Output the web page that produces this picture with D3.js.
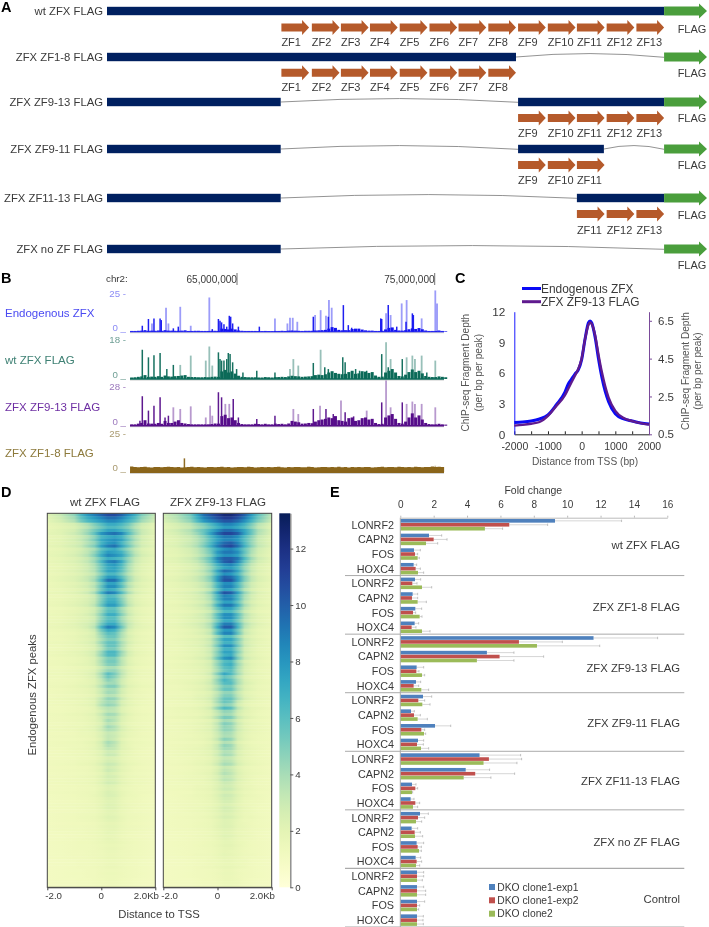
<!DOCTYPE html>
<html><head><meta charset="utf-8">
<script src="https://cdn.jsdelivr.net/npm/d3@7"></script>
<style>
html,body{margin:0;padding:0;background:#fff}
svg{display:block;filter:blur(0.35px)}
text{font-family:"Liberation Sans",Arial,sans-serif;fill:#3a3a3a}
.letter{font-weight:bold;font-size:14.5px;fill:#000}
</style></head><body>
<svg id="fig" width="709" height="927"></svg>
<script>
/* ---------- Panel A ---------- */
const constructNames=["wt ZFX FLAG","ZFX ZF1-8 FLAG","ZFX ZF9-13 FLAG","ZFX ZF9-11 FLAG","ZFX ZF11-13 FLAG","ZFX no ZF FLAG"];
const constructSegments=[[[0,805]],[[0,591]],[[0,251],[594,805]],[[0,251],[594,718]],[[0,251],[679,805]],[[0,251]]];
const constructFingers=[[1,2,3,4,5,6,7,8,9,10,11,12,13],[1,2,3,4,5,6,7,8],[9,10,11,12,13],[9,10,11],[11,12,13],[]];
const fingerStart=[252,296,338,380,423,466,508,551,594,637,679,722,765];
const fingerLength=40, proteinLength=805, flagEnd=867;
/* ---------- Panel B ---------- */
const trackNames=["Endogenous ZFX","wt ZFX FLAG","ZFX ZF9-13 FLAG","ZFX ZF1-8 FLAG"];
const trackMax=[25,18,28,25];
const genomeTicks=[65,75];
const lowStartMb=59.59, lowStepMb=0.169;
const endoLow=[.5,.5,.6,.7,1,.6,.7,.6,.8,.6,1,.7,.7,.6,.6,.7,.9,.5,.5,.6,.6,.5,.5,.5,.6,.6,.5,2,1.8,1.5,2,1.5,.8,.6,.5,.5,.5,.5,.4,.4,.5,.4,.4,.5,.5,.6,.5,.7,.8,.7,.6,.5,.6,.6,.6,.8,.9,1,1.2,2,3,2.5,1.2,.9,1,1,1.8,2,2,1.4,.9,.7,.7,.5,.5,.6,1.5,2.5,2.8,1.2,.8,.7,1,1.6,2.2,1.8,2.4,1.6,.8,.5,.5,.5,.8,.5,.4];
const wtLow=[.7,.8,1,1.2,1.8,1,1.1,1,1.3,1,1.6,1.2,1.1,1.3,1.4,1.6,1.8,1,.9,.9,.8,.8,.9,.8,1,1.1,1,3.5,4.2,3,3.5,2.5,1.5,1,.9,.8,.8,.8,.7,.7,.9,.8,.7,.9,.9,1,.9,1.2,1.5,1.3,1.2,1,1.1,1.2,1.3,1.8,2,1.8,2.2,3,3.6,2.8,2.4,2.2,2.4,3.2,3.8,2.4,2.6,3.6,3.4,2.8,3.2,1.6,1,1.1,3,3.8,4.6,3,1.4,1.2,2,3.2,4.4,3.2,3.8,2.6,1.4,1,.9,.9,1.2,1,.8];
const f913Low=[1,1,1.5,2,4,1.6,1.5,1.4,2,1.4,3.5,2,2,3,4,2,1.6,1.2,1,1,1,1,1,1,1.2,1.6,1.5,7,8,5.5,6,4,2,1.2,1,1,1,1.4,1.2,1,1.4,1,1,1.5,1.2,1.4,1,1.6,3.5,3,2.5,1.5,1.6,2,1.8,3,4,4.5,5,6,5.5,7,4,3.5,3,5.5,6,3.5,4,5.5,6,4.5,5,2,1.2,1.4,6,7.5,8.5,5,2,1.5,3,6,9,6,7.5,4.5,2,1.2,1,1,1.4,1,.8];
const f18Low=[3.8,3.4,3.3,3.4,3.6,3.3,3.2,3.5,3.4,3.3,3.4,3.7,3.4,3.3,3.5,3.2,3.3,3.4,3.6,3.3,3.4,3.3,3.2,3.4,3.5,3.3,3.4,3.6,3.3,3.4,3.2,3.3,3.5,3.4,3.3,3.6,3.4,3.2,3.3,3.4,3.3,3.5,3.3,3.4,3.6,3.3,3.2,3.4,3.3,3.5,3.4,3.3,3.3,3.6,3.4,3.2,3.3,3.5,3.4,3.3,3.4,3.3,3.6,3.3,3.4,3.2,3.5,3.3,3.4,3.3,3.5,3.4,3.2,3.3,3.4,3.6,3.3,3.4,3.5,3.3,3.7,3.4,3.3,3.5,3.3,3.6,3.4,3.3,3.4,3.5,3.8,3.4,3.6,3.4,3.3];
const endoThin=[[60.7,5.4],[61.41,15.7],[61.53,5.4],[62.13,16.3],[62.66,3.9],[63.6,22.4],[66.92,8.7],[67.55,5.4],[67.68,9.1],[67.82,9.1],[68.05,6.5],[68.95,10.9],[69.23,14.1],[69.5,10.4],[69.65,20.7],[69.79,15.7],[72.54,12],[72.77,10.9],[73.33,18.5],[73.58,20.7],[74.34,8.7],[75.03,27],[75.12,18.5]];
const endoSolid=[[60.21,3.9],[60.52,8.3],[60.8,8.7],[61.11,8.7],[61.17,7.6],[61.78,2.2],[62.03,3.3],[63.75,1.7],[64.06,8.3],[64.14,7.2],[64.22,6.1],[64.34,4.8],[64.48,3.3],[64.61,10.4],[64.68,9.8],[64.78,5.4],[65.07,3.3],[66.13,3.3],[68.86,9.8],[69.62,9.8],[70.38,17.4],[70.63,4.3],[70.8,2.6],[72.27,8.7],[72.32,8.3],[72.65,17.4],[73.08,3.3],[73.55,6.5],[73.87,12],[73.92,10.9]];
const wtThin=[[62.13,6.5],[62.66,10.8],[63.42,8.5],[63.6,15],[63.75,6.2],[67.68,4.6],[67.85,9.2],[68.1,6.2],[69.23,13.5],[72.54,17],[72.77,9.2],[73.58,10],[73.87,10.8],[74,9.2],[74.34,10.8],[75.03,8.5]];
const wtSolid=[[60.21,13.5],[60.52,10],[60.8,11],[61.11,12],[61.45,4.6],[61.78,6.5],[64.06,12.3],[64.14,9.2],[64.22,8.5],[64.34,8.5],[64.48,9.2],[64.56,12],[64.65,11.5],[64.78,7.7],[64.98,4.6],[65.3,3],[66,3.8],[66.92,3],[68.86,7.4],[69.44,5.4],[69.62,4.6],[70.35,10],[70.47,7.7],[71,4.6],[71.2,3.8],[71.56,3.8],[72.32,11.5],[72.65,5.4],[73.36,9.2],[74.6,3]];
const f913Thin=[[61.78,13.4],[62.13,12.2],[62.66,14.1],[63.42,6],[63.64,14.6],[63.75,7.3],[64.41,15.9],[64.61,15.9],[67.85,12.2],[68.1,8.5],[69.2,14.6],[70.26,18.3],[71.56,11],[72.54,33],[72.77,13.4],[73.58,15.9],[73.87,17.6],[74,15.9],[74.34,15.9],[75.03,13.4]];
const f913Solid=[[60.09,3.7],[60.21,21.5],[60.52,11],[60.8,14.6],[61.11,20.7],[61.36,6],[61.53,7.3],[64.06,24.4],[64.22,20.7],[64.81,19.5],[65.07,6],[66,4.9],[66.92,7.3],[68.86,12.2],[69.5,12.2],[69.87,8.5],[70.47,9.8],[70.9,6.8],[72.32,17],[73.36,17]];
const f18Thin=[[75.03,4.3]];
const f18Solid=[[62.34,9.1]];
/* ---------- Panel C ---------- */
const tssPositions=[-2000,-1750,-1500,-1250,-1000,-750,-500,-400,-300,-200,-100,0,100,200,250,300,400,500,600,700,800,1000,1250,1500,1750,2000];
const endoProfile=[1.15,1.2,1.3,1.5,1.9,2.9,4.1,4.9,5.4,5.9,6.3,7.3,9.3,10.9,11.1,10.9,9.5,7.4,5.6,4.2,3.2,2,1.5,1.3,1.1,1];
const f913Profile=[.96,1,1.06,1.15,1.47,2,2.55,2.9,3.25,3.6,3.96,4.5,5.52,6.28,6.41,6.33,5.74,4.71,3.79,3.04,2.44,1.74,1.36,1.2,1.09,1.01];
const leftTicks=[0,3,6,9,12], rightTicks=[.5,2.5,4.5,6.5], tssTicks=[-2000,-1500,-1000,-500,0,500,1000,1500,2000];
/* ---------- Panel D ---------- */
const heatColumnsKb=[-2,-1.5,-1,-.75,-.5,-.25,0,.25,.5,.75,1,1.25,1.5,2];
const heatWt=[
[2,3,4.5,6.5,8,9,10,11,11,10,8.5,7,5,3],
[1.8,2.3,3,4,5,6.5,8,9.5,9.5,8.5,7,5,3.5,2],
[1.7,2,2.8,3.5,4.5,6,8.5,9.5,10,9,6.5,4.5,3,1.8],
[1.6,1.9,2.5,3,4,5,7.5,9,9.5,7.5,5.5,3.8,2.6,1.7],
[1.7,2,2.6,3.2,4,5.5,8,10,9.5,8.5,6,4,2.8,1.8],
[1.5,1.8,2.3,2.8,3.4,4.6,7,9.5,10,8,5,3.2,2.3,1.6],
[1.5,1.8,2.3,2.7,3.3,4.2,6.5,9,9,7,4.6,3,2.2,1.5],
[1.4,1.7,2.1,2.5,3,4,6.5,9.5,9.5,7,4.2,2.8,2.1,1.5],
[1.4,1.6,2,2.4,2.9,4,7,9.5,9,6.5,4,2.6,2,1.4],
[1.4,1.6,2,2.3,2.7,3.6,6,8.5,8.5,6,3.6,2.4,1.9,1.4],
[1.3,1.5,1.9,2.2,2.6,3.4,5.5,8,8,5.5,3.4,2.3,1.8,1.3],
[1.3,1.5,1.9,2.2,2.5,3.2,5.5,7.5,7.5,5,3.2,2.2,1.7,1.3],
[1.3,1.5,1.8,2.1,2.5,3.4,6.5,9,8.5,5.5,3,2.1,1.7,1.3],
[1.3,1.4,1.7,2,2.3,2.9,4.8,6.5,6.5,4.4,2.8,2,1.6,1.3],
[1.2,1.4,1.7,1.9,2.2,2.8,4.6,7,7,4.6,2.7,1.9,1.6,1.2],
[1.2,1.4,1.6,1.8,2.1,2.7,4.6,6.5,6.5,4.2,2.5,1.8,1.5,1.2],
[1.2,1.3,1.6,1.8,2,2.5,4,5.5,5.5,3.8,2.4,1.8,1.5,1.2],
[1.2,1.3,1.5,1.7,2,2.5,4.2,6.5,5.5,3.6,2.2,1.7,1.4,1.2],
[1.2,1.3,1.5,1.7,1.9,2.3,3.6,5,5,3.2,2.1,1.7,1.4,1.2],
[1.1,1.3,1.5,1.6,1.8,2.2,3.4,4.8,4.6,3,2,1.6,1.4,1.1],
[1.1,1.2,1.4,1.6,1.8,2.3,4,5,4.6,2.8,2,1.6,1.3,1.1],
[1.1,1.2,1.4,1.5,1.7,2,3,4.2,4,2.6,1.9,1.5,1.3,1.1],
[1.1,1.2,1.4,1.5,1.7,2,2.8,4.6,4,2.5,1.8,1.5,1.3,1.1],
[1.1,1.2,1.3,1.5,1.6,1.9,2.7,3.8,3.5,2.4,1.8,1.5,1.3,1.1],
[1.1,1.2,1.3,1.4,1.6,1.9,2.8,4.4,3.8,2.3,1.7,1.4,1.3,1.1],
[1,1.1,1.3,1.4,1.5,1.8,2.4,3.4,3.2,2.1,1.7,1.4,1.2,1],
[1,1.1,1.2,1.4,1.5,1.7,2.3,3,2.8,2,1.6,1.4,1.2,1],
[1,1.1,1.2,1.3,1.4,1.7,2.2,3.2,2.8,2,1.6,1.3,1.2,1],
[1,1.1,1.2,1.3,1.4,1.6,2.1,2.8,2.6,1.9,1.5,1.3,1.2,1],
[1,1.1,1.2,1.3,1.4,1.5,2,2.6,2.4,1.8,1.5,1.3,1.2,1],
[.9,1,1.1,1.2,1.3,1.5,1.9,2.4,2.3,1.7,1.4,1.3,1.1,.9],
[.9,1,1.1,1.2,1.3,1.4,1.8,2.3,2.2,1.7,1.4,1.2,1.1,.9],
[.9,1,1.1,1.2,1.3,1.4,1.7,2.1,2,1.6,1.3,1.2,1.1,.9],
[.9,1,1.1,1.1,1.2,1.3,1.6,1.9,1.9,1.5,1.3,1.2,1.1,.9],
[.8,.9,1,1.1,1.2,1.3,1.5,1.8,1.7,1.4,1.2,1.1,1,.8],
[.8,.9,1,1.1,1.1,1.2,1.4,1.6,1.6,1.4,1.2,1.1,1,.8],
[.8,.9,1,1,1.1,1.2,1.3,1.5,1.5,1.3,1.2,1.1,1,.8],
[.7,.8,.9,1,1,1.1,1.2,1.4,1.4,1.2,1.1,1,.9,.7],
[.7,.8,.9,.9,1,1,1.2,1.3,1.3,1.2,1.1,1,.9,.7],
[.7,.8,.8,.9,.9,1,1.1,1.2,1.2,1.1,1,.9,.8,.7]];
const heatF913=[
[2.5,3.5,5,7,9,10,11,12,12,11,9.5,7.5,5.5,3],
[2,2.8,3.8,5,6,7.5,9,10.5,10.5,9.5,8,6,4,2.2],
[1.8,2.4,3.3,4.2,5.5,7.5,9.5,11,11,10,7.5,5.5,3.5,2],
[1.7,2.1,2.9,3.6,4.8,6.5,8.5,10,10.5,9,6.5,4.5,3,1.8],
[1.7,2,2.7,3.4,4.5,6,9,10.5,10.5,9.5,6.5,4.2,2.8,1.7],
[1.6,1.9,2.5,3,4,5.5,8,10,10.5,8.5,5.5,3.6,2.5,1.6],
[1.5,1.8,2.4,2.9,3.7,5,8,10.5,10,8,5,3.2,2.3,1.5],
[1.5,1.8,2.3,2.7,3.4,4.5,7.5,10,10,7.5,4.6,3,2.2,1.5],
[1.4,1.7,2.2,2.6,3.2,4.4,7.5,10.5,10,7.5,4.4,2.9,2.1,1.4],
[1.4,1.6,2.1,2.5,3,4,7,9.5,9.5,7,4,2.7,2,1.4],
[1.4,1.6,2,2.4,2.9,3.8,6.5,9,9,6.5,3.8,2.6,1.9,1.4],
[1.3,1.5,2,2.3,2.7,3.6,6,8.5,8.5,6,3.5,2.5,1.9,1.3],
[1.3,1.5,1.9,2.2,2.7,3.6,7,10,10,6.5,3.4,2.4,1.8,1.3],
[1.3,1.5,1.9,2.1,2.5,3.2,5.5,8,8,5.5,3.1,2.3,1.8,1.3],
[1.3,1.4,1.8,2,2.4,3.2,5.5,8.5,8.5,5.5,3,2.2,1.7,1.3],
[1.2,1.4,1.7,2,2.3,3,5.5,8,8.5,5,2.8,2.1,1.7,1.2],
[1.2,1.4,1.7,1.9,2.2,2.8,4.8,7,7.5,4.6,2.7,2,1.6,1.2],
[1.2,1.4,1.6,1.8,2.1,2.8,5,7.5,6.5,4.2,2.5,1.9,1.6,1.2],
[1.2,1.3,1.6,1.8,2.1,2.7,4.2,6,6,3.8,2.4,1.9,1.5,1.2],
[1.2,1.3,1.5,1.8,2,2.5,3.8,5.5,5.5,3.6,2.3,1.8,1.5,1.2],
[1.1,1.3,1.5,1.7,2,2.6,4.6,6.5,6,3.4,2.2,1.7,1.5,1.1],
[1.1,1.3,1.5,1.6,1.9,2.3,3.6,5,4.8,3,2.1,1.7,1.4,1.1],
[1.1,1.2,1.4,1.6,1.8,2.2,3.4,5.2,4.8,3,2,1.6,1.4,1.1],
[1.1,1.2,1.4,1.6,1.8,2.1,3.2,4.6,4.4,2.8,2,1.6,1.4,1.1],
[1.1,1.2,1.4,1.5,1.7,2.1,3.2,5,4.6,2.6,1.9,1.5,1.3,1.1],
[1,1.2,1.4,1.5,1.7,2,2.9,4.2,4,2.5,1.8,1.5,1.3,1],
[1,1.1,1.3,1.5,1.6,1.9,2.7,3.8,3.6,2.4,1.8,1.5,1.3,1],
[1,1.1,1.3,1.4,1.6,1.8,2.6,3.8,3.4,2.3,1.7,1.4,1.3,1],
[1,1.1,1.3,1.4,1.5,1.8,2.4,3.4,3.2,2.2,1.7,1.4,1.2,1],
[1,1.1,1.2,1.4,1.5,1.7,2.3,3,2.9,2.1,1.6,1.4,1.2,1],
[.9,1,1.2,1.3,1.4,1.6,2.1,2.8,2.7,2,1.5,1.3,1.2,.9],
[.9,1,1.2,1.3,1.4,1.6,2,2.6,2.5,1.9,1.5,1.3,1.1,.9],
[.9,1,1.1,1.2,1.3,1.5,1.9,2.4,2.3,1.8,1.4,1.3,1.1,.9],
[.9,1,1.1,1.2,1.3,1.4,1.8,2.2,2.1,1.6,1.4,1.2,1.1,.9],
[.8,.9,1,1.1,1.2,1.3,1.6,2,1.9,1.5,1.3,1.2,1,.8],
[.8,.9,1,1.1,1.2,1.3,1.5,1.8,1.8,1.5,1.3,1.1,1,.8],
[.8,.9,1,1.1,1.1,1.2,1.4,1.7,1.6,1.4,1.2,1.1,1,.8],
[.7,.8,.9,1,1.1,1.2,1.3,1.5,1.5,1.3,1.2,1,.9,.7],
[.7,.8,.9,1,1,1.1,1.2,1.4,1.4,1.2,1.1,1,.9,.7],
[.7,.8,.8,.9,1,1,1.1,1.3,1.3,1.2,1,.9,.8,.7]];
/* strength of each thin streak, three per matrix row, read by eye from the dark and pale bands */
const streakWt=[1.1,.95,.85,.8,.7,.85,1.05,.8,.9,.95,1.1,.8,.85,.95,.75,1,.85,.8,.9,.75,.95,1.1,.85,.95,.8,1.05,.7,.85,.9,1,.75,.8,.95,.85,.9,1.05,1.1,.85,.7,.9,.8,.95,.85,.75,1,1.05,.8,.85,.95,.7,.85,1,.9,.75,.85,1.05,.8,.9,.75,1,.85,.95,.7,.8,1.05,.85,.9,.75,.95,1.05,.8,.85,.7,.95,.85,1,.8,.9,.75,.85,1.05,.8,.9,.7,.95,.85,1,.8,.75,.9,1,.85,.8,.9,.95,.75,.85,1,.9,.8,.9,.85,.95,.8,.9,1,.85,.9,.9,.85,.95,.85,.9,1,.9,.95,.85,1,.9,.95];
const streakF913=[1.1,1,.9,.85,.75,.95,1.05,.85,.8,1,1.1,.85,.9,.8,1,1.05,.85,.75,.95,.8,1,1.1,.85,.9,.75,1.05,.85,.95,.8,1,.85,.7,.95,1,.85,1.1,1.05,.8,.9,.75,.95,.85,1,.8,.9,.85,1.05,.75,.95,.85,.8,1,.75,.9,1.05,.85,.95,.8,.9,1.05,.85,.7,1,.9,.8,1.05,.75,.95,.85,1,.85,.8,.95,.7,.9,1,.85,.95,.8,.9,1.05,.75,.85,.95,.9,1,.8,.85,.95,.75,1,.9,.85,.8,.95,.9,.85,1,.8,.9,.95,.85,.9,1,.85,.9,.95,.85,.9,1,.85,.95,.9,1,.85,.95,.9,1,.95,.9];
const heatFloor=1, heatMatrixFloor=.7, heatGain=[.86,.92];
const colorTicks=[0,2,4,6,8,10,12], colorMax=13.25;
/* ---------- Panel E ---------- */
const foldGroups=["wt ZFX FLAG","ZFX ZF1-8 FLAG","ZFX ZF9-13 FLAG","ZFX ZF9-11 FLAG","ZFX ZF11-13 FLAG","ZFX no ZF FLAG","Control"];
const genes=["LONRF2","CAPN2","FOS","HOXC4"];
const cloneNames=["DKO clone1-exp1","DKO clone1-exp2","DKO clone2"];
const foldTicks=[0,2,4,6,8,10,12,14,16];
const foldValues=[
[[9.27,6.53,5.07],[1.72,2,1.54],[.82,.88,1.04],[.8,.92,1.06]],
[[.88,.72,1.3],[.74,.7,1.04],[.9,.76,1.16],[.86,.68,1.3]],
[[11.58,7.11,8.19],[5.19,5.95,4.59],[.98,.96,1.3],[.94,.8,1.26]],
[[1.36,1.08,1.32],[.64,.82,1.04],[2.08,1.26,1.42],[1.06,1,1.24]],
[[4.75,5.31,4.99],[3.92,4.49,3.8],[.7,.9,.7],[.62,.9,.76]],
[[1.18,1.06,.94],[.68,.86,.88],[.98,1.04,1.12],[.92,.98,.94]],
[[1,1,1],[1,1,1],[1,1,1],[1,1,1]]];
const foldErrorEnds=[
[[13.26,8.83,6.13],[2.48,2.8,2.24],[1.2,1.04,1.14],[.98,1.2,1.4]],
[[1.22,1,1.88],[1.04,1.04,1.56],[1.28,.92,1.3],[1.1,.94,1.78]],
[[15.42,9.71,11.95],[6.81,8.59,6.81],[1.4,1.12,1.46],[1.22,1.1,1.7]],
[[1.88,1.46,1.78],[.84,1.2,1.62],[3.02,1.46,1.52],[1.4,1.38,1.7]],
[[7.21,7.27,6.99],[5.35,6.85,5.43],[.94,1.04,.74],[.82,1.16,1.04]],
[[1.68,1.46,1.28],[1.04,1.2,1.34],[1.4,1.26,1.26],[1.22,1.28,1.16]],
[[1.4,1.4,1.32],[1.4,1.52,1.52],[1.46,1.16,1.1],[1.38,1.36,1.38]]];

const svg=d3.select("#fig");
const txt=(g,x,y,s,o={})=>{const t=g.append("text").attr("x",x).attr("y",y).attr("dy","0.35em")
  .attr("font-size",o.size||11).attr("text-anchor",o.anchor||"start").text(s);
  if(o.fill)t.style("fill",o.fill); if(o.rot)t.attr("transform",`rotate(${o.rot} ${x} ${y})`); return t;};
[["A",1,7],["B",1,278],["C",455,278],["D",1,492],["E",330,492]].forEach(d=>txt(svg,d[1],d[2],d[0]).attr("class","letter"));

/* ===== A ===== */
(function(){
 const g=svg.append("g");
 const x=d3.scaleLinear().domain([0,flagEnd]).range([107,707]);
 const barY=[11,57,102,149,198,249], zfY=[27.5,72.7,118,165,214], lblY=[42.5,87.5,133,180,230], flagY=[29,73,118,165,215,265];
 const arrow=(x0,x1,yc,shaft,head,hl)=>`M${x0},${yc-shaft/2}H${x1-hl}V${yc-head/2}L${x1},${yc}L${x1-hl},${yc+head/2}V${yc+shaft/2}H${x0}Z`;
 constructNames.forEach((name,i)=>{
  txt(g,103,barY[i],name,{anchor:"end",size:11.3});
  const segs=constructSegments[i];
  const joints=[];
  segs.forEach((s,k)=>{const nxt=k<segs.length-1?segs[k+1][0]:proteinLength; if(nxt-s[1]>1)joints.push([s[1],nxt]);});
  joints.forEach(j=>{
    const a=x(j[0]),b=x(j[1]);
    g.append("path").attr("d",`M${a},${barY[i]}Q${(a+b)/2},${barY[i]-7} ${b},${barY[i]+0.3}`)
     .attr("fill","none").attr("stroke","#777").attr("stroke-width",.8);
  });
  g.selectAll(null).data(segs).join("rect").attr("x",d=>x(d[0])).attr("width",d=>x(d[1])-x(d[0]))
   .attr("y",barY[i]-4.2).attr("height",8.4).attr("fill","#002060");
  g.append("path").attr("d",arrow(x(proteinLength),x(flagEnd),barY[i],9,15,8)).attr("fill","#4a9e3c");
  txt(g,692,flagY[i],"FLAG",{anchor:"middle",size:11});
  constructFingers[i].forEach(n=>{
    const s=fingerStart[n-1];
    g.append("path").attr("d",arrow(x(s),x(s+fingerLength),zfY[i],8,15,7)).attr("fill","#b55a2b");
    txt(g,x(s),lblY[i],"ZF"+n,{size:11});
  });
 });
})();

/* ===== B ===== */
(function(){
 const g=svg.append("g");
 const x=d3.scaleLinear().domain([65,75]).range([237,434.7]);
 const base=[331.7,379,425.7,472.3], top=[293.5,340,387.3,434];
 const labelY=[312.7,360,406.7,452.7], axisTopY=[294,340,387,434], axisZeroY=[328,375,421.7,468];
 const solid=["#1414f0","#0b6a58","#560d8a","#8a651a"], text=["#4a4af2","#3f8174","#6e2fa3","#8d7a3c"], axisC=["#8b8bf5","#6f9f95","#9c79bd","#a99a70"];
 const lows=[endoLow,wtLow,f913Low,f18Low], thins=[endoThin,wtThin,f913Thin,f18Thin], solids=[endoSolid,wtSolid,f913Solid,f18Solid];
 txt(g,106,279,"chr2:",{size:9.8});
 genomeTicks.forEach(t=>{
  txt(g,x(t),279,d3.format(",")(t*1e6),{anchor:"end",size:10.1});
  g.append("line").attr("x1",x(t)).attr("x2",x(t)).attr("y1",273).attr("y2",285).attr("stroke","#333").attr("stroke-width",.7);
 });
 trackNames.forEach((name,i)=>{
  const y=d3.scaleLinear().domain([0,trackMax[i]]).range([base[i],top[i]]);
  txt(g,5,labelY[i],name,{size:11.5,fill:text[i]});
  txt(g,126,axisTopY[i],trackMax[i]+" -",{anchor:"end",size:9.7,fill:axisC[i]});
  txt(g,126,axisZeroY[i],"0 _",{anchor:"end",size:9.7,fill:axisC[i]});
  g.append("line").attr("x1",130).attr("x2",444).attr("y1",base[i]+1).attr("y2",base[i]+1).attr("stroke","#bbb").attr("stroke-width",.8);
  const xl=k=>x(lowStartMb+k*lowStepMb)+1.6;
  if(i===3){
   const area=d3.area().x((d,k)=>x(lowStartMb+k*lowStepMb)).y0(base[i]).y1(d=>y(d)).curve(d3.curveStepAfter);
   g.append("path").attr("d",area(lows[i])).attr("fill",solid[i]);
  } else {
   g.selectAll(null).data(lows[i]).join("line").attr("x1",(d,k)=>xl(k)).attr("x2",(d,k)=>xl(k))
     .attr("y1",base[i]).attr("y2",d=>y(d)).attr("stroke",solid[i]).attr("stroke-width",3);
  }
  g.selectAll(null).data(thins[i]).join("line").attr("x1",d=>x(d[0])).attr("x2",d=>x(d[0]))
    .attr("y1",base[i]).attr("y2",d=>y(d[1])).attr("stroke",solid[i]).attr("stroke-width",1.8).attr("opacity",.42);
  g.selectAll(null).data(solids[i]).join("line").attr("x1",d=>x(d[0])).attr("x2",d=>x(d[0]))
    .attr("y1",base[i]).attr("y2",d=>y(d[1])).attr("stroke",solid[i]).attr("stroke-width",1.5).attr("opacity",.95);
  g.append("line").attr("x1",130).attr("x2",444).attr("y1",base[i]).attr("y2",base[i]).attr("stroke",solid[i]).attr("stroke-width",i===0?1.1:1.6);
 });
})();

/* ===== C ===== */
(function(){
 const g=svg.append("g");
 const x=d3.scaleLinear().domain([-2000,2000]).range([514.3,649]);
 const yL=d3.scaleLinear().domain([0,12]).range([434.3,311.7]);
 const yR=d3.scaleLinear().domain([.5,6.98]).range([434.3,311.7]);
 const style=(a,c,size)=>{a.select(".domain").attr("stroke",c);a.selectAll(".tick line").attr("stroke",c);a.selectAll("text").attr("font-size",size).style("fill","#3a3a3a").attr("font-family","Liberation Sans");};
 const ax=g.append("g").attr("transform","translate(0,434.3)").call(d3.axisBottom(x).tickValues(tssTicks).tickSize(-3).tickSizeOuter(0).tickFormat(d=>d%1000?"":d));
 style(ax,"#222",10.5); ax.selectAll("text").attr("dy","0.35em").attr("y",11.7);
 const al=g.append("g").attr("transform","translate(514.3,0)").call(d3.axisLeft(yL).tickValues(leftTicks).tickSize(0).tickPadding(9));
 style(al,"#1a1aff",11.8);
 const ar=g.append("g").attr("transform","translate(649,0)").call(d3.axisRight(yR).tickValues(rightTicks).tickSize(3).tickSizeOuter(0).tickPadding(6));
 style(ar,"#7a4a9a",11.5);
 const line=y=>d3.line().x(d=>x(d[0])).y(d=>y(d[1])).curve(d3.curveMonotoneX);
 g.append("path").attr("d",line(yL)(d3.zip(tssPositions,endoProfile))).attr("fill","none").attr("stroke","#0a0af5").attr("stroke-width",3);
 g.append("path").attr("d",line(yR)(d3.zip(tssPositions,f913Profile))).attr("fill","none").attr("stroke","#5f1a8e").attr("stroke-width",2.4);
 [["Endogenous ZFX","#0a0af5",288.5],["ZFX ZF9-13 FLAG","#5f1a8e",301.7]].forEach(d=>{
  g.append("line").attr("x1",522).attr("x2",541).attr("y1",d[2]).attr("y2",d[2]).attr("stroke",d[1]).attr("stroke-width",3);
  txt(g,541,d[2],d[0],{size:11.9});
 });
 [[465.7,"ChIP-seq Fragment Depth",372.7],[478,"(per bp per peak)",372.7],[685,"ChIP-seq Fragment Depth",371],[697,"(per bp per peak)",371]].forEach(d=>
  txt(g,d[0],d[2],d[1],{anchor:"middle",size:10.1,rot:-90,fill:"#555"}));
 txt(g,585,461.7,"Distance from TSS (bp)",{anchor:"middle",size:10.2,fill:"#555"});
})();

/* ===== D ===== */
(function(){
 const g=svg.append("g");
 const defs=svg.append("defs");
 const y0=513.3,y1=887.3;
 const color=v=>d3.interpolateYlGnBu(Math.min(1,v/colorMax));
 const panels=[{m:heatWt,s:streakWt,a:47.3,b:155.3,title:"wt ZFX FLAG",tc:105,end:159},{m:heatF913,s:streakF913,a:163.3,b:271.7,title:"ZFX ZF9-13 FLAG",tc:218,end:275}];
 panels.forEach((p,pi)=>{
  const x=d3.scaleLinear().domain([-2,2]).range([p.a,p.b]);
  const y=d3.scaleBand().domain(d3.range(p.s.length)).range([y0,y1]);
  p.s.forEach((gain,r)=>{
   const row=p.m[Math.floor(r/3)];
   const gr=defs.append("linearGradient").attr("id",`h${pi}r${r}`);
   gr.selectAll("stop").data(row).join("stop")
     .attr("offset",(d,k)=>(heatColumnsKb[k]+2)/4).attr("stop-color",d=>color(heatFloor+(d-heatMatrixFloor)*gain*heatGain[pi]));
  });
  g.selectAll(null).data(p.s).join("rect").attr("x",p.a).attr("width",p.b-p.a)
    .attr("y",(d,r)=>y(r)).attr("height",y.bandwidth()+.4).attr("fill",(d,r)=>`url(#h${pi}r${r})`);
  g.append("rect").attr("x",p.a).attr("y",y0).attr("width",p.b-p.a).attr("height",y1-y0).attr("fill","none").attr("stroke","#444").attr("stroke-width",1);
  txt(g,p.tc,502,p.title,{anchor:"middle",size:11.6});
  const ax=g.append("g").attr("transform",`translate(0,${y1})`).call(d3.axisBottom(x).tickValues([-2,0,2]).tickSize(3).tickSizeOuter(0).tickFormat(""));
  ax.select(".domain").attr("stroke","#444"); ax.selectAll(".tick line").attr("stroke","#444");
  txt(g,p.a-2,896,"-2.0",{size:9.7}); txt(g,x(0),896,"0",{anchor:"middle",size:9.7}); txt(g,p.end,896,"2.0Kb",{anchor:"end",size:9.7});
 });
 txt(g,159,914,"Distance to TSS",{anchor:"middle",size:11.3});
 txt(g,31.7,695,"Endogenous ZFX peaks",{anchor:"middle",size:11.3,rot:-90});
 const cy=d3.scaleLinear().domain([0,colorMax]).range([y1,y0]);
 const cg=defs.append("linearGradient").attr("id","cbar").attr("x1",0).attr("x2",0).attr("y1",1).attr("y2",0);
 cg.selectAll("stop").data(d3.range(0,1.0001,.05)).join("stop").attr("offset",d=>d).attr("stop-color",d=>d3.interpolateYlGnBu(d));
 g.append("rect").attr("x",279.3).attr("y",y0).attr("width",11).attr("height",y1-y0).attr("fill","url(#cbar)");
 const a=g.append("g").attr("transform","translate(290.3,0)").call(d3.axisRight(cy).tickValues(colorTicks).tickSize(3).tickSizeOuter(0).tickPadding(2));
 a.select(".domain").attr("stroke","#888").attr("stroke-width",1.4); a.selectAll(".tick line").attr("stroke","#555");
 a.selectAll("text").attr("font-size",9.7).attr("font-family","Liberation Sans").style("fill","#3a3a3a");
})();

/* ===== E ===== */
(function(){
 const g=svg.append("g");
 const x=d3.scaleLinear().domain([0,16]).range([400.3,667.3]);
 const yG=d3.scaleBand().domain(foldGroups).range([517,927]);
 const yGene=d3.scaleBand().domain(genes).range([.6,yG.bandwidth()+.6]);
 const yClone=d3.scaleBand().domain(cloneNames).range([yGene.bandwidth()/2-5.9,yGene.bandwidth()/2+5.9]);
 const colors=["#4f81bd","#c0504d","#9bbb59"];
 const labelRight=680, labelY=[545,607.3,667.7,723.3,781,842,899];
 const ax=g.append("g").attr("transform","translate(0,517.7)").call(d3.axisTop(x).tickValues(foldTicks).tickSize(2).tickSizeOuter(0).tickPadding(8));
 ax.select(".domain").attr("stroke","#bbb"); ax.selectAll(".tick line").attr("stroke","#bbb");
 ax.selectAll("text").attr("font-size",10).attr("font-family","Liberation Sans").style("fill","#3a3a3a");
 txt(g,533.3,490,"Fold change",{anchor:"middle",size:10.5});
 foldGroups.forEach((grp,gi)=>{
  const top=yG(grp);
  genes.forEach((gene,ii)=>{
   const ty=top+yGene(gene);
   txt(g,394,ty+yGene.bandwidth()/2,gene,{anchor:"end",size:10.8});
   cloneNames.forEach((c,k)=>{
    const yy=ty+yClone(c), h=yClone.bandwidth()-.3, mid=yy+h/2;
    const v=foldValues[gi][ii][k], e=foldErrorEnds[gi][ii][k];
    g.append("line").attr("x1",x(v)).attr("x2",x(e)).attr("y1",mid).attr("y2",mid).attr("stroke","#c4c4c4").attr("stroke-width",.7);
    g.append("line").attr("x1",x(e)).attr("x2",x(e)).attr("y1",mid-1.2).attr("y2",mid+1.2).attr("stroke","#aaa").attr("stroke-width",.7);
    g.append("rect").attr("x",x(0)).attr("y",yy).attr("width",x(v)-x(0)).attr("height",h).attr("fill",colors[k]);
   });
  });
  g.append("line").attr("x1",345).attr("x2",684.3).attr("y1",top+yG.bandwidth()).attr("y2",top+yG.bandwidth()).attr("stroke","#aaa").attr("stroke-width",gi>=5?1.2:1);
  txt(g,labelRight,labelY[gi],grp,{anchor:"end",size:11.3});
 });
 g.append("line").attr("x1",x(0)).attr("x2",x(0)).attr("y1",517.7).attr("y2",927).attr("stroke","#aaa").attr("stroke-width",1);
 cloneNames.forEach((c,k)=>{
  const y=[887,900.3,913.7][k];
  g.append("rect").attr("x",489).attr("y",y-3).attr("width",6).attr("height",6).attr("fill",colors[k]);
  txt(g,497.3,y,c,{size:10.3});
 });
})();
</script>
</body></html>
